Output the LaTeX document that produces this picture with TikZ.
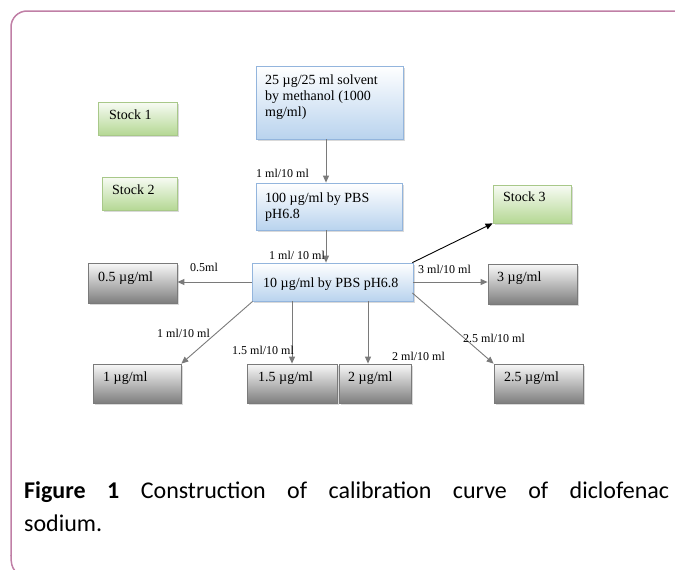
\documentclass[tikz,border=0pt]{standalone}
\usepackage{fontspec}
\setmainfont{Liberation Serif}
\newfontfamily\capfont{Carlito}
\usetikzlibrary{arrows.meta,fit,shadows}
\definecolor{framec}{HTML}{C07FA6}
\definecolor{blueedge}{HTML}{93B5DD}
\definecolor{bluebot}{HTML}{B9D3EE}
\definecolor{greenedge}{HTML}{A8C889}
\definecolor{greenbot}{HTML}{B5D894}
\definecolor{grayedge}{HTML}{7A7A7A}
\definecolor{graybot}{HTML}{7E7E7E}
\definecolor{arrc}{HTML}{7A7A7A}
\tikzset{
  boxbase/.style={rectangle, inner sep=0pt, line width=0.8pt,
    drop shadow={shadow xshift=1.5pt, shadow yshift=-1.5pt, opacity=0.3}},
  bluebox/.style={boxbase, draw=blueedge, top color=white, bottom color=bluebot},
  greenbox/.style={boxbase, draw=greenedge, top color=white!90!greenbot, bottom color=greenbot},
  graybox/.style={boxbase, draw=grayedge, top color=white!95!graybot, bottom color=graybot},
  boxtxt/.style={anchor=base west, inner sep=0pt, font=\fontsize{14}{16}\selectfont, align=left},
  stocktxt/.style={anchor=base west, inner sep=0pt, font=\fontsize{14}{16}\selectfont},
  lbl/.style={anchor=base west, inner sep=0pt, font=\fontsize{12}{14}\selectfont},
  arr/.style={draw=arrc, line width=0.9pt, -{Triangle[length=7pt,width=6pt]}},
  arrblack/.style={draw=black, line width=0.9pt, -{Triangle[length=7pt,width=6pt]}},
}
\begin{document}
\begin{tikzpicture}[x=1pt,y=-1pt]
\useasboundingbox (0,0) rectangle (675,570);
% frame
\draw[framec, line width=1.5pt, rounded corners=16pt] (678,11) -- (11,11) -- (11,556);
\draw[framec, line width=1.5pt] (11,555) .. controls (11,564) and (12,567) .. (15,571);
% boxes
\node[bluebox, fit={(256,66) (403,139)}] (top) {};
\node[bluebox, fit={(256,183) (402,230)}] (b100) {};
\node[bluebox, fit={(252,263) (413,301)}] (b10) {};
\node[greenbox, fit={(98,102) (177,135)}] (s1) {};
\node[greenbox, fit={(102,177) (177,210)}] (s2) {};
\node[greenbox, fit={(493,185) (571,223)}] (s3) {};
\node[graybox, fit={(88,263) (177,303)}] (b05) {};
\node[graybox, fit={(488,264) (577,304)}] (b3) {};
\node[graybox, fit={(93,364) (181,403)}] (b1) {};
\node[graybox, fit={(247,364) (337,403)}] (b15) {};
\node[graybox, fit={(339,364) (411,403)}] (b2) {};
\node[graybox, fit={(494,364) (583,403)}] (b25) {};
% box texts (base = baseline of the last line)
\node[boxtxt] (ttop) at (265,116) {25 µg/25 ml solvent\\by methanol (1000\\mg/ml)};
\node[boxtxt] (t100) at (265,218) {100 µg/ml by PBS\\pH6.8};
\node[boxtxt] (t10) at (263,287) {10 µg/ml by PBS pH6.8};
\node[stocktxt] (ts1) at (109,119) {Stock 1};
\node[stocktxt] (ts2) at (112,194) {Stock 2};
\node[stocktxt] (ts3) at (503,201) {Stock 3};
\node[boxtxt] (t05) at (98,281) {0.5 µg/ml};
\node[boxtxt] (t3) at (497,281) {3 µg/ml};
\node[boxtxt] (t1) at (103,381) {1 µg/ml};
\node[boxtxt] (t15) at (258,381) {1.5 µg/ml};
\node[boxtxt] (t2) at (348,381) {2 µg/ml};
\node[boxtxt] (t25) at (504,381) {2.5 µg/ml};
% connectors
\coordinate (topout) at ([xshift=-3.5pt]top.south);
\coordinate (b100out) at ([xshift=-3pt]b100.south);
\coordinate (b2in) at ([xshift=-7pt]b2.north);
\draw[arr] (topout) -- (topout |- b100.north);
\draw[arr] (b100out) -- (b100out |- b10.north);
\draw[arr] (b10.west) -- (b10.west -| b05.east);
\draw[arr] (b10.east) -- (b10.east -| b3.west);
\draw[arrblack] ([xshift=-1pt]b10.north east) -- (s3.south west);
\draw[arr] ([xshift=-1pt,yshift=-11pt]b10.east) -- (b25.north west);
\draw[arr] ([xshift=1pt]b10.south west) -- (b1.north east);
\draw[arr] (b10.south -| b15.north) -- (b15.north);
\draw[arr] (b10.south -| b2in) -- (b2in);
% labels
\node[lbl] (l1) at (256,177) {1 ml/10 ml};
\node[lbl] (l2) at (269,259) {1 ml/ 10 ml};
\node[lbl] (l3) at (190,271) {0.5ml};
\node[lbl] (l4) at (418,273) {3 ml/10 ml};
\node[lbl] (l5) at (157,337) {1 ml/10 ml};
\node[lbl] (l6) at (232,354) {1.5 ml/10 ml};
\node[lbl] (l7) at (392,360) {2 ml/10 ml};
\node[lbl] (l8) at (463,342) {2.5 ml/10 ml};
% caption
\node[anchor=base west, inner sep=0pt, text width=645pt, align=justify,
      font=\capfont\fontsize{24}{33}\selectfont] (cap) at (24,498)
  {\textbf{Figure 1} Construction of calibration curve of diclofenac\linebreak sodium.};
\end{tikzpicture}
\end{document}
